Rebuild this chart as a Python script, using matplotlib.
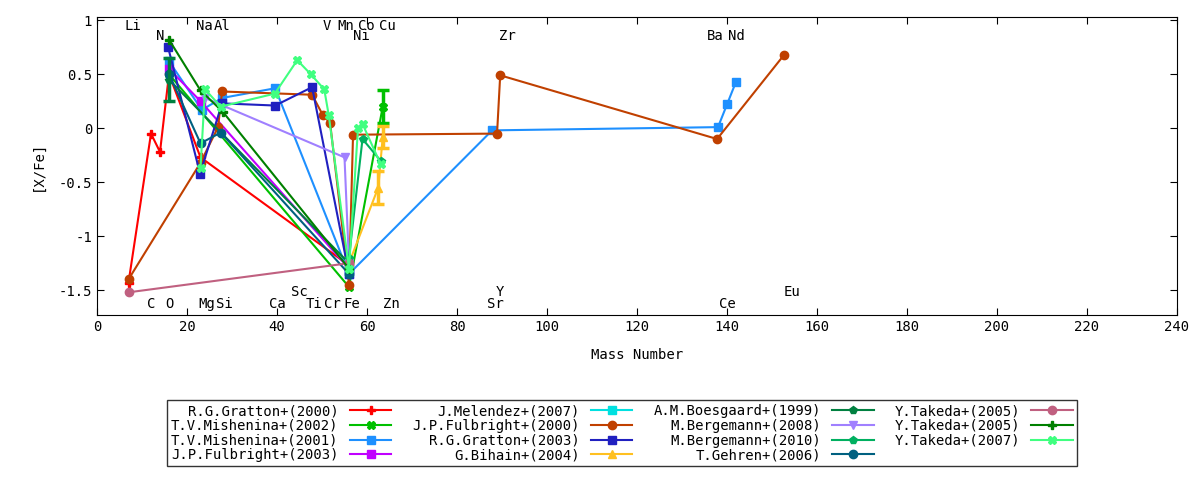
import matplotlib
matplotlib.use('Agg')
import matplotlib.pyplot as plt

plt.rcParams['font.family'] = ['DejaVu Sans Mono']
plt.rcParams['font.size'] = 10

# series: label, color, marker, x (mass number), y ([X/Fe])
names = ['R.G.Gratton+(2000)', 'T.V.Mishenina+(2002)', 'T.V.Mishenina+(2001)', 'J.P.Fulbright+(2003)',
         'J.Melendez+(2007)', 'J.P.Fulbright+(2000)', 'R.G.Gratton+(2003)', 'G.Bihain+(2004)',
         'A.M.Boesgaard+(1999)', 'M.Bergemann+(2008)', 'M.Bergemann+(2010)', 'T.Gehren+(2006)',
         'Y.Takeda+(2005)', 'Y.Takeda+(2005)', 'Y.Takeda+(2007)']
colors = ['#ff0000', '#00c000', '#1e90ff', '#c000ff', '#00e0e0', '#c04000', '#2020c0', '#ffc020',
          '#008040', '#a080ff', '#00b060', '#006080', '#c06080', '#008000', '#40ff80']
markers = ['P', 'X', 's', 's', 's', 'o', 's', '^', 'p', 'v', 'p', 'o', 'o', 'P', 'X']

xs = [
    [7, 12, 14, 16, 23, 56],
    [16, 56, 63.5],
    [16, 23.3, 27.8, 39.6, 56, 87.8, 138, 140, 142],
    [16, 23, 56],
    [56],
    [7, 23, 26.9, 27.8, 47.8, 50.2, 51.8, 56, 56.9, 88.9, 89.6, 137.8, 152.7],
    [15.8, 22.9, 27.8, 39.6, 47.8, 56],
    [56, 62.5, 63.5],
    [16, 56],
    [24, 55, 56],
    [56, 59, 63],
    [16, 23, 27.5, 56],
    [7, 56],
    [16, 23, 28, 56],
    [23, 24, 27.5, 39.5, 44.5, 47.5, 50.5, 51.5, 56, 58, 59, 63],
]
ys = [
    [-1.43, -0.05, -0.22, 0.5, -0.27, -1.27],
    [0.5, -1.47, 0.2],
    [0.62, 0.17, 0.28, 0.37, -1.35, -0.02, 0.01, 0.22, 0.43],
    [0.55, 0.25, -1.3],
    [-1.3],
    [-1.4, -0.32, 0.01, 0.34, 0.31, 0.12, 0.05, -1.45, -0.06, -0.05, 0.49, -0.1, 0.68],
    [0.75, -0.42, 0.23, 0.21, 0.38, -1.35],
    [-1.25, -0.55, -0.08],
    [0.45, -1.25],
    [0.28, -0.27, -1.25],
    [-1.2, -0.1, -0.3],
    [0.5, -0.14, -0.04, -1.35],
    [-1.52, -1.25],
    [0.82, 0.35, 0.15, -1.3],
    [-0.37, 0.36, 0.2, 0.32, 0.63, 0.5, 0.36, 0.12, -1.3, 0.0, 0.04, -0.33],
]
# error bars (series index, x, y, err)
errs = [(1, 63.5, 0.2, 0.15), (8, 16, 0.45, 0.2), (7, 62.5, -0.55, 0.15), (7, 63.5, -0.08, 0.1)]

# element labels: name, x, y
elem = [('Li', 7.9, 0.95), ('N', 14, 0.85), ('Na', 23.8, 0.95), ('Al', 27.8, 0.95), ('V', 51, 0.95),
        ('Mn', 55.3, 0.95), ('Co', 59.8, 0.95), ('Ni', 58.7, 0.85), ('Cu', 64.5, 0.95), ('Zr', 91.2, 0.85),
        ('Ba', 137.3, 0.85), ('Nd', 142, 0.85),
        ('C', 12, -1.63), ('O', 16, -1.63), ('Mg', 24.3, -1.63), ('Si', 28.4, -1.63), ('Ca', 40.1, -1.63),
        ('Sc', 45, -1.52), ('Ti', 48.2, -1.63), ('Cr', 52.3, -1.63), ('Fe', 56.6, -1.63), ('Zn', 65.4, -1.63),
        ('Y', 89.5, -1.52), ('Sr', 88.6, -1.63), ('Ce', 140.1, -1.63), ('Eu', 154.5, -1.52)]

fig = plt.figure(figsize=(12, 4.8), dpi=100)
ax = fig.add_axes([97/1200, 1-315/480, 1080/1200, 298/480])
handles = []
for i in range(len(names)):
    h, = ax.plot(xs[i], ys[i], color=colors[i], marker=markers[i], ms=6, lw=1.5, label=names[i])
    handles.append(h)
for i, x, y, e in errs:
    ax.errorbar(x, y, yerr=e, color=colors[i], lw=2.5, capsize=4, capthick=2.5)
for n, x, y in elem:
    ax.text(x, y, n, ha='center', va='center', fontsize=10)

ax.set_xlim(0, 240)
ax.set_ylim(-1.73, 1.03)
ax.set_xticks(range(0, 241, 20))
ax.set_yticks([-1.5, -1, -0.5, 0, 0.5, 1])
ax.set_yticklabels(['-1.5', '-1', '-0.5', '0', '0.5', '1'])
ax.tick_params(direction='in', top=True, right=True, length=5)
ax.set_xlabel('Mass Number', labelpad=10)
ax.set_ylabel('[X/Fe]', labelpad=10)

leg = fig.legend(handles=handles, loc='upper left', bbox_to_anchor=(160/1200, 1-393/480), ncol=4,
                 markerfirst=False, frameon=True, fancybox=False, edgecolor='black',
                 handlelength=3, columnspacing=1.5, labelspacing=0.05, borderpad=0.3, fontsize=10)
for t in leg.get_texts():
    t.set_ha('right')
fig.savefig('out.png', dpi=100)
